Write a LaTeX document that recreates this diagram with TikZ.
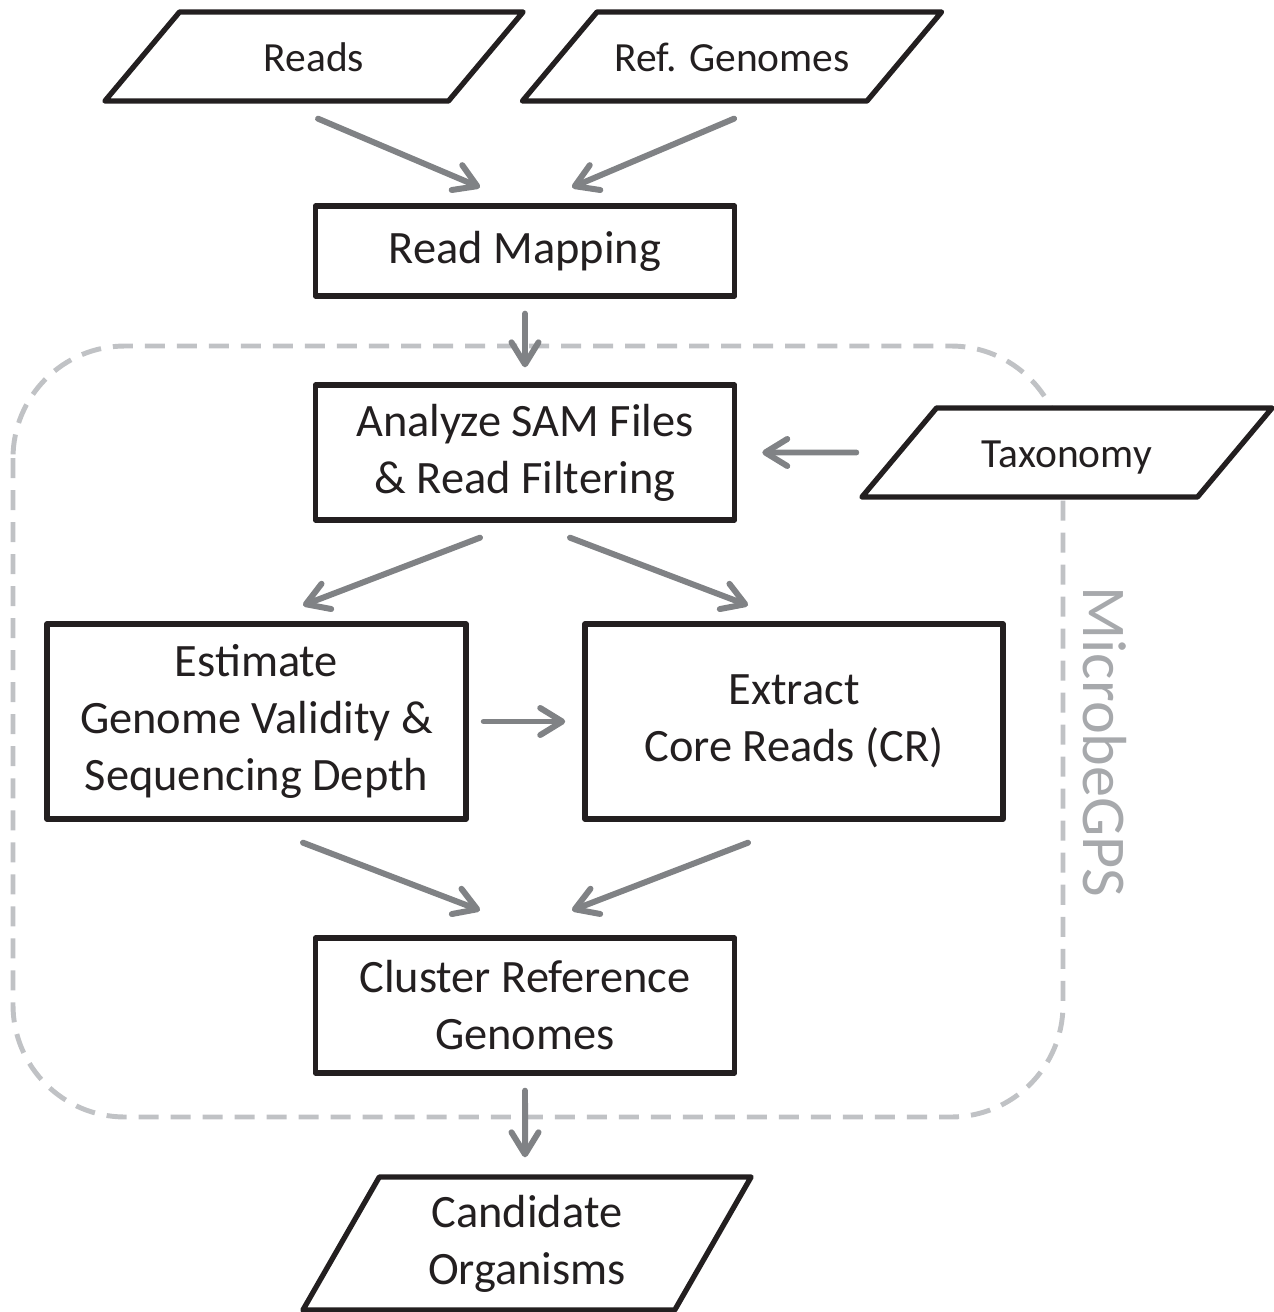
\documentclass[tikz,border=0pt]{standalone}
\usepackage{fontspec}
\setmainfont{Carlito}
\usetikzlibrary{shapes.geometric,arrows.meta}
\definecolor{boxline}{HTML}{231F20}
\definecolor{arrowgray}{HTML}{808285}
\definecolor{dashgray}{HTML}{C0C2C5}
\definecolor{labelgray}{HTML}{A7A9AC}

\begin{document}
\begin{tikzpicture}[x=0.01cm, y=-0.01cm, line cap=round, line join=round,
    proc/.style={draw=boxline, line width=1.5pt, fill=white, minimum width=4.19cm,
        inner sep=0pt, align=center, text=boxline, font=\fontsize{13.2}{16.2}\selectfont},
    data/.style={trapezium, trapezium left angle=50, trapezium right angle=130,
        trapezium stretches body, draw=boxline, line width=1.5pt, fill=white,
        inner xsep=0pt, inner ysep=5.9pt, text height=11pt, text depth=2.5pt,
        minimum height=0.89cm, text=boxline, font=\fontsize{11.8}{14}\selectfont},
    outdata/.style={trapezium, trapezium left angle=59, trapezium right angle=121,
        trapezium stretches body, draw=boxline, line width=1.5pt, fill=white,
        inner xsep=0pt, inner ysep=0.15cm, align=center, minimum height=1.33cm,
        text=boxline, font=\fontsize{13.2}{16.2}\selectfont},
    flow/.style={draw=arrowgray, line width=1.7pt,
        -{Straight Barb[round, length=0.22cm, width=0.27cm]}}]
    \useasboundingbox (0, 0) rectangle (1274, 1312);

    % MicrobeGPS frame
    \draw[dashgray, line width=1.4pt, line cap=butt, dash pattern=on 0.2cm off 0.12cm,
        rounded corners=1.12cm] (13, 346) rectangle (1063, 1117);
    \node[rotate=-90, anchor=base, text=labelgray, font=\fontsize{17.7}{20}\selectfont]
        (gps) at (1083, 742) {MicrobeGPS};

    % Inputs
    \node[data, minimum width=4.18cm] (reads) at (314, 56.5) {Reads};
    \node[data, minimum width=4.19cm] (ref) at (732, 56.5) {Ref. Genomes};
    \node[data, minimum width=4.10cm] (tax) at (1067, 452.5) {Taxonomy};

    % Processing steps
    \node[proc, minimum height=0.90cm] (map) at (525, 251) {Read Mapping};
    \node[proc, minimum height=1.35cm] (sam) at (525, 452.5) {Analyze SAM Files\\\& Read Filtering};
    \node[proc, minimum height=1.95cm] (est) at (256.5, 721.5) {Estimate\\Genome Validity \&\\Sequencing Depth};
    \node[proc, minimum height=1.95cm, minimum width=4.18cm] (ext) at (794, 721.5) {Extract\\Core Reads (CR)};
    \node[proc, minimum height=1.35cm] (clu) at (525, 1005.5) {Cluster Reference\\Genomes};

    % Output
    \node[outdata, minimum width=4.48cm] (cand) at (527, 1243.5) {Candidate\\Organisms};

    % Arrows
    \draw[flow] ([shift={(4, 15)}]reads.south) -- ([shift={(-45, -16)}]map.north);
    \draw[flow] ([shift={(2, 15)}]ref.south) -- ([shift={(47, -16)}]map.north);
    \draw[flow] ([shift={(0, 15)}]map.south) -- ([shift={(0, -15)}]sam.north);
    \draw[flow] (tax.bottom left corner |- tax.west) -- ([shift={(25, 0)}]sam.east);
    \draw[flow] ([shift={(-45, 15)}]sam.south) -- ([shift={(46.5, -16)}]est.north);
    \draw[flow] ([shift={(45, 15)}]sam.south) -- ([shift={(-46, -16)}]ext.north);
    \draw[flow] ([shift={(15, 0)}]est.east) -- ([shift={(-17, 0)}]ext.west);
    \draw[flow] ([shift={(46.5, 21)}]est.south) -- ([shift={(-45, -25)}]clu.north);
    \draw[flow] ([shift={(-46, 21)}]ext.south) -- ([shift={(47, -25)}]clu.north);
    \draw[flow] ([shift={(0, 15)}]clu.south) -- ([shift={(-2, -17)}]cand.north);
\end{tikzpicture}
\end{document}
